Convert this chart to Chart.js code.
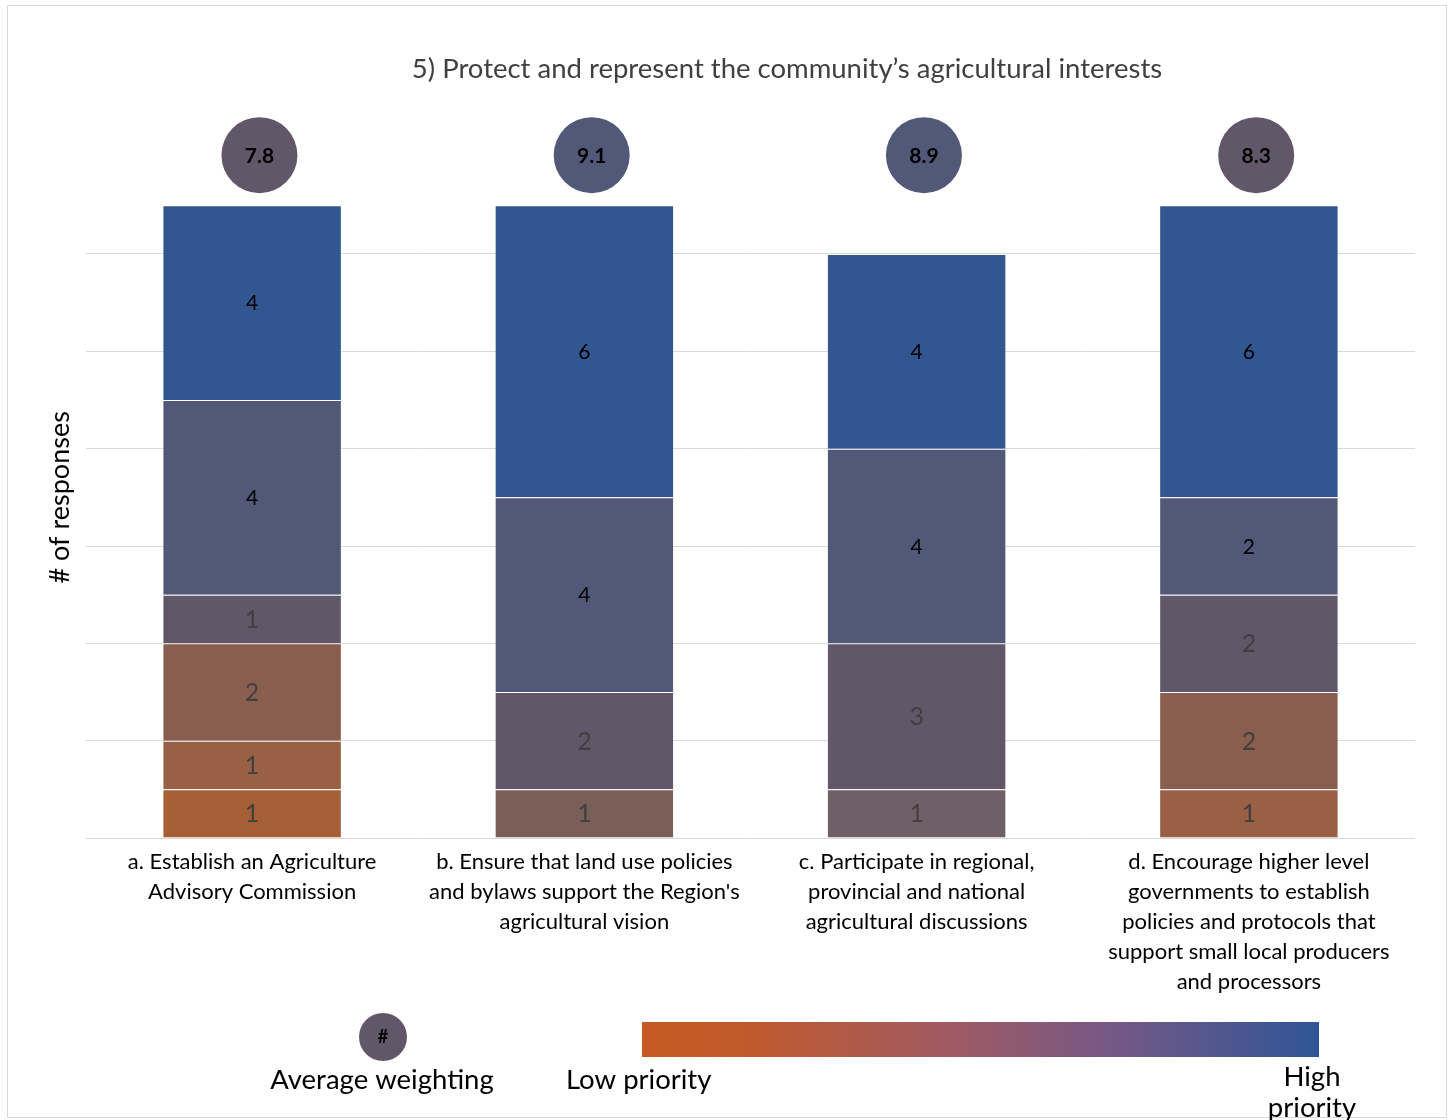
<!DOCTYPE html>
<html><head><meta charset="utf-8">
<script src="https://cdn.jsdelivr.net/npm/chart.js@4/dist/chart.umd.min.js"></script>
<style>html,body{margin:0;padding:0;background:#fff;}#wrap{width:1453px;height:1120px;position:relative;}</style>
</head><body><div id="wrap"><canvas id="c" width="1453" height="1120"></canvas></div>
<script>
const chartTitle = "5) Protect and represent the community\u2019s agricultural interests";
const yAxisTitle = "# of responses";
const categories = [
  ["a. Establish an Agriculture", "Advisory Commission"],
  ["b. Ensure that land use policies", "and bylaws support the Region's", "agricultural vision"],
  ["c. Participate in regional,", "provincial and national", "agricultural discussions"],
  ["d. Encourage higher level", "governments to establish", "policies and protocols that", "support small local producers", "and processors"]
];
// number of responses at each priority weighting (1 = low, 10 = high)
const level1 = [0, 0, 0, 0];
const level2 = [0, 0, 0, 0];
const level3 = [1, 0, 0, 0];
const level4 = [1, 0, 0, 1];
const level5 = [2, 0, 0, 2];
const level6 = [0, 1, 0, 0];
const level7 = [0, 0, 1, 0];
const level8 = [1, 2, 3, 2];
const level9 = [4, 4, 4, 2];
const level10 = [4, 6, 4, 6];
const averageWeighting = [7.8, 9.1, 8.9, 8.3];
const yTicks = [0, 2, 4, 6, 8, 10, 12];

const levelColors = ['#C55A1E', '#B45E2A', '#A65F34', '#9A6046', '#8A5E4E', '#7A5E58', '#6F5F66', '#615769', '#525878', '#32568F'];
const levelData = [level1, level2, level3, level4, level5, level6, level7, level8, level9, level10];
const FONT = 'Lato';
Chart.defaults.font.family = FONT;

const barSets = levelData.map((d, i) => ({
  type: 'bar', label: 'Weighting ' + (i + 1), data: d, stack: 'resp', grouped: false,
  backgroundColor: levelColors[i], borderColor: 'rgba(255,255,255,0.12)', borderWidth: 1,
  barPercentage: 0.54, categoryPercentage: 1, order: 2, level: i + 1
}));
const avgMarkerY = 14.03;
const avgSet = {
  type: 'line', label: 'Average weighting', stack: 'avg', xAxisID: 'x2',
  data: averageWeighting.map((v, i) => ({ x: i, y: avgMarkerY })),
  showLine: false, pointRadius: 38, pointHoverRadius: 38, pointBorderWidth: 0,
  pointBackgroundColor: averageWeighting.map(v => levelColors[Math.round(v) - 1]), order: 1
};

const extras = {
  id: 'extras',
  beforeDraw(chart) {
    const ctx = chart.ctx;
    ctx.save();
    ctx.fillStyle = '#fff';
    ctx.fillRect(0, 0, chart.width, chart.height);
    ctx.strokeStyle = '#d9d9d9'; ctx.lineWidth = 1;
    ctx.strokeRect(7.5, 5.5, 1439, 1112);
    ctx.restore();
  },
  afterDatasetsDraw(chart) {
    const ctx = chart.ctx;
    const y = chart.scales.y;
    ctx.save();
    ctx.textAlign = 'center'; ctx.textBaseline = 'middle';
    chart.data.datasets.forEach((ds, di) => {
      const meta = chart.getDatasetMeta(di);
      if (ds.type === 'bar') {
        meta.data.forEach((el, j) => {
          const v = ds.data[j];
          if (!v) return;
          const cy = (el.y + el.base) / 2;
          if (ds.level >= 9) { ctx.fillStyle = '#000'; ctx.font = '21px ' + FONT; }
          else { ctx.fillStyle = '#404040'; ctx.font = '25px ' + FONT; }
          ctx.fillText(String(v), el.x, cy + 1);
        });
      } else {
        meta.data.forEach((el, j) => {
          ctx.fillStyle = '#000'; ctx.font = 'bold 21px ' + FONT;
          ctx.fillText(averageWeighting[j].toFixed(1), el.x, el.y + 1);
        });
      }
    });
    // title
    ctx.fillStyle = '#404040'; ctx.font = '27.5px ' + FONT;
    ctx.fillText(chartTitle, 787, 69);
    // y axis title
    ctx.save();
    ctx.translate(60, y.getPixelForValue(7));
    ctx.rotate(-Math.PI / 2);
    ctx.fillStyle = '#000'; ctx.font = '27px ' + FONT;
    ctx.fillText(yAxisTitle, 0, 0);
    ctx.restore();
    // legend: average weighting marker
    ctx.fillStyle = levelColors[7];
    ctx.beginPath(); ctx.arc(383, 1037, 24, 0, Math.PI * 2); ctx.fill();
    ctx.fillStyle = '#000'; ctx.font = 'bold 18px ' + FONT;
    ctx.fillText('#', 383, 1037);
    ctx.font = '27.5px ' + FONT;
    ctx.fillText('Average weighting', 382, 1080);
    // legend: gradient
    const g = ctx.createLinearGradient(642, 0, 1319, 0);
    g.addColorStop(0, '#C55A22'); g.addColorStop(0.14, '#C25A2A');
    g.addColorStop(0.45, '#A05A62'); g.addColorStop(0.7, '#745886');
    g.addColorStop(1, '#2F5597');
    ctx.fillStyle = g; ctx.fillRect(642, 1022, 677, 35);
    ctx.fillStyle = '#000';
    ctx.textAlign = 'left'; ctx.fillText('Low priority', 566, 1080);
    ctx.textAlign = 'center';
    ctx.fillText('High', 1312, 1077);
    ctx.fillText('priority', 1312, 1108);
    ctx.restore();
  }
};

new Chart(document.getElementById('c'), {
  data: { labels: categories, datasets: [...barSets, avgSet] },
  options: {
    responsive: false, animation: false,
    layout: { padding: { top: 108, right: 37, left: 0, bottom: 0 } },
    plugins: { legend: { display: false }, tooltip: { enabled: false }, title: { display: false } },
    scales: {
      x: {
        stacked: true,
        grid: { display: false, drawTicks: false }, border: { display: false },
        ticks: { color: '#000', font: { size: 22, lineHeight: 30 / 22 }, padding: 9, maxRotation: 0, autoSkip: false },
        afterFit(s) { s.height = 282; }
      },
      x2: {
        type: 'linear', display: false, min: -0.522, max: 3.478
      },
      y: {
        stacked: true, min: 0, max: 15,
        afterBuildTicks(s) { s.ticks = yTicks.map(v => ({ value: v })); },
        ticks: { display: false },
        grid: { color: '#d9d9d9', drawTicks: false, lineWidth: 1 },
        border: { display: false },
        afterFit(s) { s.width = 86; }
      }
    }
  },
  plugins: [extras]
});
</script></body></html>
